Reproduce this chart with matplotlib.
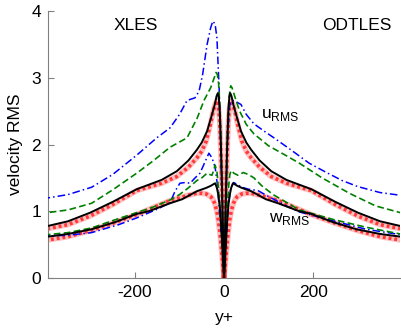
import numpy as np
import matplotlib
matplotlib.use('Agg')
import matplotlib.pyplot as plt

plt.rcParams['font.family'] = ['Liberation Sans', 'DejaVu Sans']
plt.rcParams['mathtext.fontset'] = 'custom'
plt.rcParams['mathtext.rm'] = 'Liberation Sans'
plt.rcParams['axes.unicode_minus'] = False

# DNS reference (red crosses), same on both walls
dns_yp = [0, 2, 4, 6, 8, 10, 13, 16, 20, 25, 30, 40, 50, 61, 80, 106, 140, 196, 250, 300, 350, 395]
dns_u = [0, 0.6, 1.15, 1.65, 2.05, 2.38, 2.6, 2.66, 2.6, 2.48, 2.32, 2.05, 1.9, 1.8, 1.66, 1.52, 1.42, 1.31, 1.1, 0.93, 0.8, 0.74]
dns_w_yp = [0, 2, 4, 6, 8, 10, 13, 16, 20, 25, 30, 40, 50, 61, 80, 100, 121, 150, 196, 250, 300, 350, 395]
dns_w = [0, 0.15, 0.3, 0.45, 0.6, 0.72, 0.88, 1.0, 1.1, 1.18, 1.22, 1.26, 1.27, 1.27, 1.24, 1.2, 1.16, 1.08, 0.95, 0.82, 0.71, 0.62, 0.57]

# black solid, same on both walls
ref_yp = [0, 2, 4, 6, 8, 10, 12, 14, 17, 20, 27, 38, 50, 61, 80, 106, 140, 196, 250, 300, 350, 395]
ref_u = [0, 0.6, 1.2, 1.75, 2.2, 2.55, 2.72, 2.77, 2.72, 2.62, 2.45, 2.2, 2.03, 1.92, 1.76, 1.6, 1.47, 1.33, 1.14, 0.98, 0.85, 0.78]
ref_w_yp = [0, 2, 4, 6, 8, 10, 13, 16, 20, 25, 30, 40, 61, 94, 121, 169, 196, 243, 297, 350, 395]
ref_w = [0, 0.25, 0.5, 0.75, 0.95, 1.1, 1.25, 1.35, 1.42, 1.4, 1.38, 1.35, 1.3, 1.18, 1.12, 1.0, 0.96, 0.84, 0.73, 0.66, 0.62]

# XLES (left half, plotted at -y+)
xl_blue_yp = [0, 4, 8, 11, 16, 20, 25, 30, 38, 48, 56, 65, 83, 100, 121, 151, 196, 250, 297, 350, 395]
xl_blue_u = [0, 1.0, 2.1, 2.85, 3.6, 3.8, 3.85, 3.75, 3.5, 3.05, 2.8, 2.7, 2.66, 2.45, 2.25, 2.1, 1.84, 1.55, 1.36, 1.25, 1.2]
xl_blue_w_yp = [0, 4, 8, 11, 15, 20, 27, 34, 42, 54, 65, 76, 88, 99, 110, 121, 150, 196, 236, 297, 350, 395]
xl_blue_w = [0, 0.4, 0.8, 1.06, 1.4, 1.66, 1.8, 1.87, 1.75, 1.57, 1.5, 1.42, 1.43, 1.42, 1.3, 1.13, 1.03, 0.9, 0.8, 0.68, 0.64, 0.63]
xl_green_yp = [0, 3, 6, 9, 12, 15, 18, 22, 30, 45, 60, 83, 121, 160, 196, 250, 297, 350, 395]
xl_green_u = [0, 0.9, 1.8, 2.5, 2.9, 3.05, 3.08, 3.0, 2.85, 2.66, 2.4, 2.1, 1.96, 1.75, 1.57, 1.32, 1.12, 1.02, 0.98]
xl_green_w_yp = [0, 4, 8, 12, 16, 20, 24, 27, 32, 38, 50, 61, 80, 100, 121, 160, 196, 250, 297, 350, 395]
xl_green_w = [0, 0.45, 0.9, 1.3, 1.6, 1.69, 1.6, 1.54, 1.55, 1.57, 1.5, 1.46, 1.35, 1.25, 1.17, 1.06, 0.98, 0.86, 0.75, 0.68, 0.65]

# ODTLES (right half)
od_blue_yp = [0, 3, 6, 9, 12, 15, 22, 30, 38, 50, 67, 90, 112, 150, 191, 230, 265, 300, 350, 395]
od_blue_u = [0, 0.8, 1.6, 2.2, 2.55, 2.65, 2.66, 2.63, 2.6, 2.45, 2.31, 2.2, 2.1, 1.92, 1.72, 1.58, 1.46, 1.37, 1.28, 1.24]
od_blue_w_yp = [0, 3, 6, 10, 15, 22, 30, 40, 55, 76, 100, 140, 169, 243, 319, 395]
od_blue_w = [0, 0.35, 0.7, 1.1, 1.35, 1.43, 1.4, 1.36, 1.33, 1.31, 1.22, 1.08, 0.99, 0.86, 0.73, 0.65]
od_green_yp = [0, 3, 6, 9, 12, 15, 18, 25, 35, 50, 67, 100, 135, 169, 220, 281, 340, 395]
od_green_u = [0, 0.85, 1.7, 2.35, 2.75, 2.88, 2.85, 2.7, 2.5, 2.3, 2.16, 1.98, 1.85, 1.72, 1.5, 1.27, 1.08, 0.98]
od_green_w_yp = [0, 3, 6, 10, 13, 16, 22, 31, 38, 43, 55, 67, 85, 110, 169, 243, 319, 395]
od_green_w = [0, 0.45, 0.9, 1.35, 1.55, 1.61, 1.57, 1.54, 1.56, 1.58, 1.55, 1.5, 1.38, 1.25, 1.02, 0.88, 0.76, 0.66]

fig = plt.figure(figsize=(4.01, 3.30), dpi=100)
ax = fig.add_axes([0.1197, 0.1576, 0.878, 0.809])

def neg(a):
    return -np.asarray(a)

# DNS band of crosses on both sides
for sgn in (-1, 1):
    for yp, v in ((dns_yp, dns_u), (dns_w_yp, dns_w)):
        x = sgn * np.asarray(yp)
        ax.plot(x, v, color='red', lw=4.0, alpha=0.25, zorder=1)
        ax.plot(x, v, color='red', lw=2.6, dashes=[0.8, 0.8], alpha=0.7, zorder=1)

blue = dict(color='blue', lw=1.1, dashes=[5, 2, 1, 2], zorder=3)
green = dict(color='green', lw=1.2, dashes=[4, 2], zorder=3)
black = dict(color='black', lw=1.4, zorder=4)

ax.plot(neg(xl_blue_yp), xl_blue_u, **blue)
ax.plot(neg(xl_blue_w_yp), xl_blue_w, **blue)
ax.plot(neg(xl_green_yp), xl_green_u, **green)
ax.plot(neg(xl_green_w_yp), xl_green_w, **green)

ax.plot(od_blue_yp, od_blue_u, **blue)
ax.plot(od_blue_w_yp, od_blue_w, **blue)
ax.plot(od_green_yp, od_green_u, **green)
ax.plot(od_green_w_yp, od_green_w, **green)

for sgn in (-1, 1):
    ax.plot(sgn * np.asarray(ref_yp), ref_u, **black)
    ax.plot(sgn * np.asarray(ref_w_yp), ref_w, **black)

ax.set_xlim(-395, 395)
ax.set_ylim(0, 4)
ax.set_xticks([-200, 0, 200])
ax.set_yticks([0, 1, 2, 3, 4])
ax.tick_params(direction='in', length=4, color='#808080', labelsize=12.5, pad=5)
for s in ('top', 'right'):
    ax.spines[s].set_visible(False)
for s in ('left', 'bottom'):
    ax.spines[s].set_color('#808080')
    ax.spines[s].set_linewidth(0.8)

ax.set_xlabel('y+', fontsize=12.5, labelpad=7)
ax.set_ylabel('velocity RMS', fontsize=12.5, labelpad=6)

ax.text(-198, 3.78, 'XLES', fontsize=12.5, ha='center', va='center')
ax.text(297, 3.78, 'ODTLES', fontsize=12.5, ha='center', va='center')
ax.text(83, 2.39, r'u$_{\mathrm{RMS}}$', fontsize=12.5, ha='left', va='baseline')
ax.text(101, 0.84, r'w$_{\mathrm{RMS}}$', fontsize=12.5, ha='left', va='baseline')

fig.savefig('out.png', dpi=100)
